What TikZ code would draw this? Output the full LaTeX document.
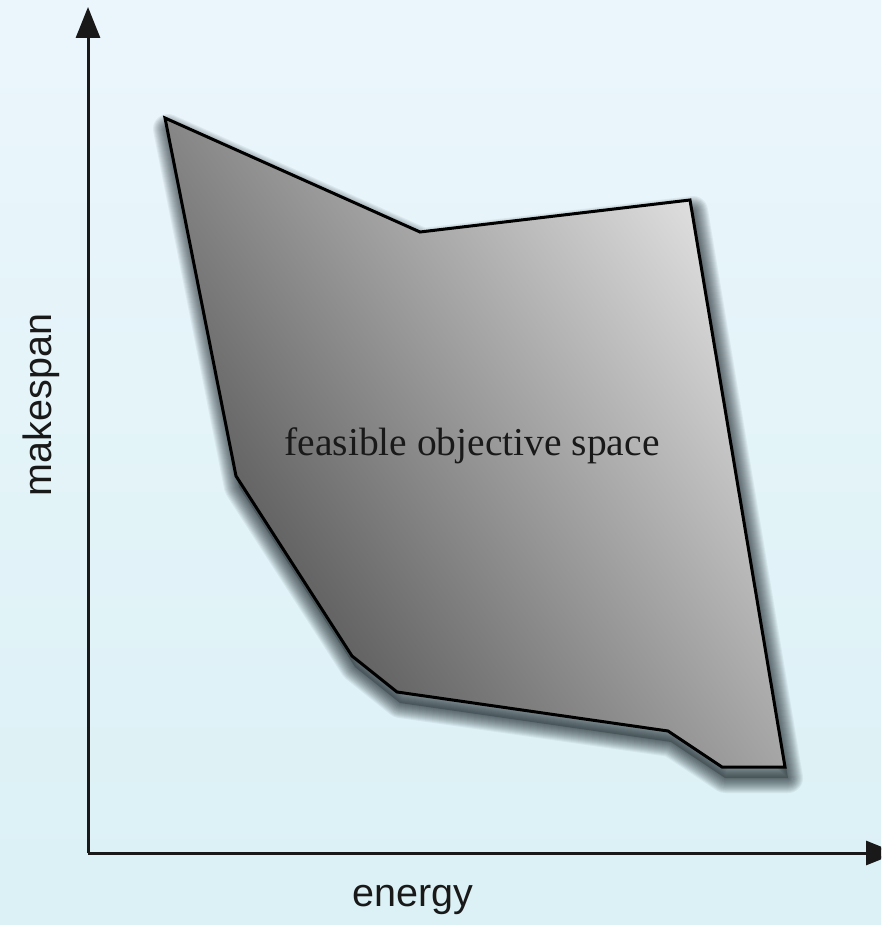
\documentclass[tikz,border=0pt]{standalone}
\usepackage{fontspec}
\setmainfont{Liberation Serif}
\newfontfamily\labelfont{Liberation Sans}
\usetikzlibrary{arrows.meta}
\definecolor{bgtop}{RGB}{235,246,252}
\definecolor{bgbot}{RGB}{219,241,245}
\definecolor{axiscol}{RGB}{25,25,25}
\definecolor{polydark}{RGB}{78,78,78}
\definecolor{polymid}{RGB}{140,140,140}
\definecolor{polylight}{RGB}{222,222,222}
\definecolor{shadowcol}{RGB}{10,20,25}
\tikzset{
  axisline/.style={line width=3pt, draw=axiscol, -{Triangle[length=31pt,width=24pt]}},
  region/.style={draw=black, line width=3pt, line join=miter,
    bottom color=polydark, middle color=polymid, top color=polylight, shading angle=-55},
  shadowfill/.style={fill=shadowcol, fill opacity=0.25},
  shadowring/.style={draw=shadowcol, draw opacity=0.055, line join=round},
  axislabel/.style={font=\labelfont\fontsize{39.5}{47}\selectfont, text=black!90},
  regionlabel/.style={font=\fontsize{39.5}{47}\selectfont, text=black!90}
}
\begin{document}
\begin{tikzpicture}[x=1pt,y=-1pt]
\path[use as bounding box] (0,0) rectangle (881,925);
\clip (0,0) rectangle (881,925);
\shade[top color=bgtop, bottom color=bgbot] (0,0) rectangle (881,925);
% polygon
\coordinate (p1) at (165,118);
\coordinate (p2) at (420,232);
\coordinate (p3) at (690,200);
\coordinate (p4) at (785,767);
\coordinate (p5) at (722,767);
\coordinate (p6) at (668,731);
\coordinate (p7) at (397,692);
\coordinate (p8) at (352,656);
\coordinate (p9) at (236,476);
\def\polypath{(p1) -- (p2) -- (p3) -- (p4) -- (p5) -- (p6) -- (p7) -- (p8) -- (p9) -- cycle}
% soft shadow
\begin{scope}[transform canvas={shift={(3pt,-11pt)}}]
  \path[shadowfill] \polypath;
  \foreach \w in {2,4,...,30}{
    \path[shadowring, line width=\w pt] \polypath;
  }
\end{scope}
\shade[region] \polypath;
\node[regionlabel] (fos) at (472,446) {feasible objective space};
% axes
\coordinate (O) at (88,853);
\coordinate (ytip) at (88,7);
\coordinate (xtip) at (897,853);
\draw[axisline] (O) -- (ytip);
\draw[axisline] (O) -- (xtip);
\node[axislabel, rotate=90] (ylab) at (41,405) {makespan};
\node[axislabel] (xlab) at (413,900) {energy};
\end{tikzpicture}
\end{document}
